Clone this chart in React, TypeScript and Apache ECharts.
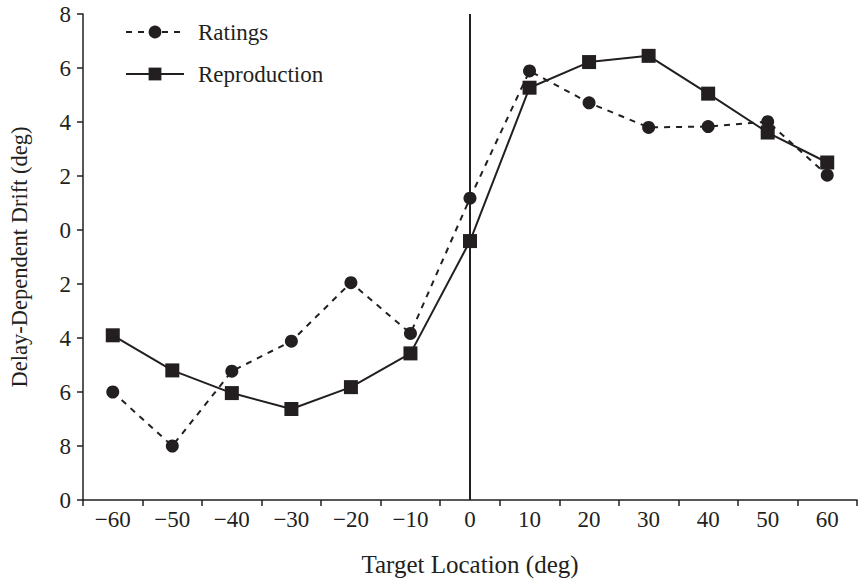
import React, { useEffect, useRef } from "react";
import * as echarts from "echarts";

const categories = ["−60", "−50", "−40", "−30", "−20", "−10", "0", "10", "20", "30", "40", "50", "60"];
const ratings = [-6.0, -8.0, -5.23, -4.12, -1.95, -3.83, 1.18, 5.89, 4.71, 3.8, 3.83, 4.01, 2.03];
const reproduction = [-3.9, -5.2, -6.04, -6.63, -5.82, -4.57, -0.41, 5.27, 6.22, 6.45, 5.05, 3.61, 2.5];
const yTickLabels = ["0", "8", "6", "4", "2", "0", "2", "4", "6", "8"];
const yMin = -10;
const yMax = 8;
const yStep = 2;

const INK = "#231f20";
const FONT = "Liberation Serif";

export default function App() {
  const ref = useRef<HTMLDivElement>(null);
  useEffect(() => {
    if (!ref.current) return;
    const chart = echarts.init(ref.current, null, { renderer: "svg" });
    chart.setOption({
      animation: false,
      backgroundColor: "#ffffff",
      textStyle: { fontFamily: FONT, color: INK },
      grid: { left: 83, right: 4, top: 14, bottom: 80 },
      legend: {
        orient: "vertical",
        left: 120,
        top: 15,
        itemWidth: 58,
        itemHeight: 16,
        itemGap: 18,
        textStyle: { fontFamily: FONT, fontSize: 23, lineHeight: 24, color: INK, padding: [0, 0, 0, 9] },
        data: ["Ratings", "Reproduction"],
      },
      xAxis: {
        type: "category",
        data: categories,
        boundaryGap: true,
        name: "Target Location (deg)",
        nameLocation: "middle",
        nameGap: 52,
        nameTextStyle: { fontFamily: FONT, fontSize: 25, color: INK },
        axisLine: { onZero: false, lineStyle: { color: INK, width: 1.5 } },
        axisTick: { show: true, inside: false, length: 6, lineStyle: { color: INK, width: 1.5 } },
        axisLabel: { fontFamily: FONT, fontSize: 23, color: INK, margin: 8 },
        splitLine: { show: false },
      },
      yAxis: {
        type: "value",
        min: yMin,
        max: yMax,
        interval: yStep,
        name: "Delay-Dependent Drift (deg)",
        nameLocation: "middle",
        nameGap: 52,
        nameRotate: 90,
        nameTextStyle: { fontFamily: FONT, fontSize: 22.5, color: INK },
        axisLine: { show: true, lineStyle: { color: INK, width: 1.5 } },
        axisTick: { show: true, inside: false, length: 6, lineStyle: { color: INK, width: 1.5 } },
        axisLabel: {
          fontFamily: FONT,
          fontSize: 23,
          color: INK,
          margin: 12,
          formatter: (v: number) => yTickLabels[Math.round((v - yMin) / yStep)] ?? "",
        },
        splitLine: { show: false },
      },
      series: [
        {
          name: "Ratings",
          type: "line",
          data: ratings,
          symbol: "circle",
          symbolSize: 13,
          itemStyle: { color: INK },
          lineStyle: { color: INK, width: 2, type: [6, 6] },
          z: 3,
        },
        {
          name: "Reproduction",
          type: "line",
          data: reproduction,
          symbol: "rect",
          symbolSize: 14,
          itemStyle: { color: INK },
          lineStyle: { color: INK, width: 2, type: "solid" },
          z: 4,
          markLine: {
            silent: true,
            symbol: "none",
            label: { show: false },
            lineStyle: { color: INK, width: 2, type: "solid" },
            data: [{ xAxis: "0" }],
          },
        },
      ],
    });
    return () => chart.dispose();
  }, []);
  return (
    <div
      ref={ref}
      style={{ position: "fixed", left: 0, top: 0, width: 861, height: 582 }}
    />
  );
}
